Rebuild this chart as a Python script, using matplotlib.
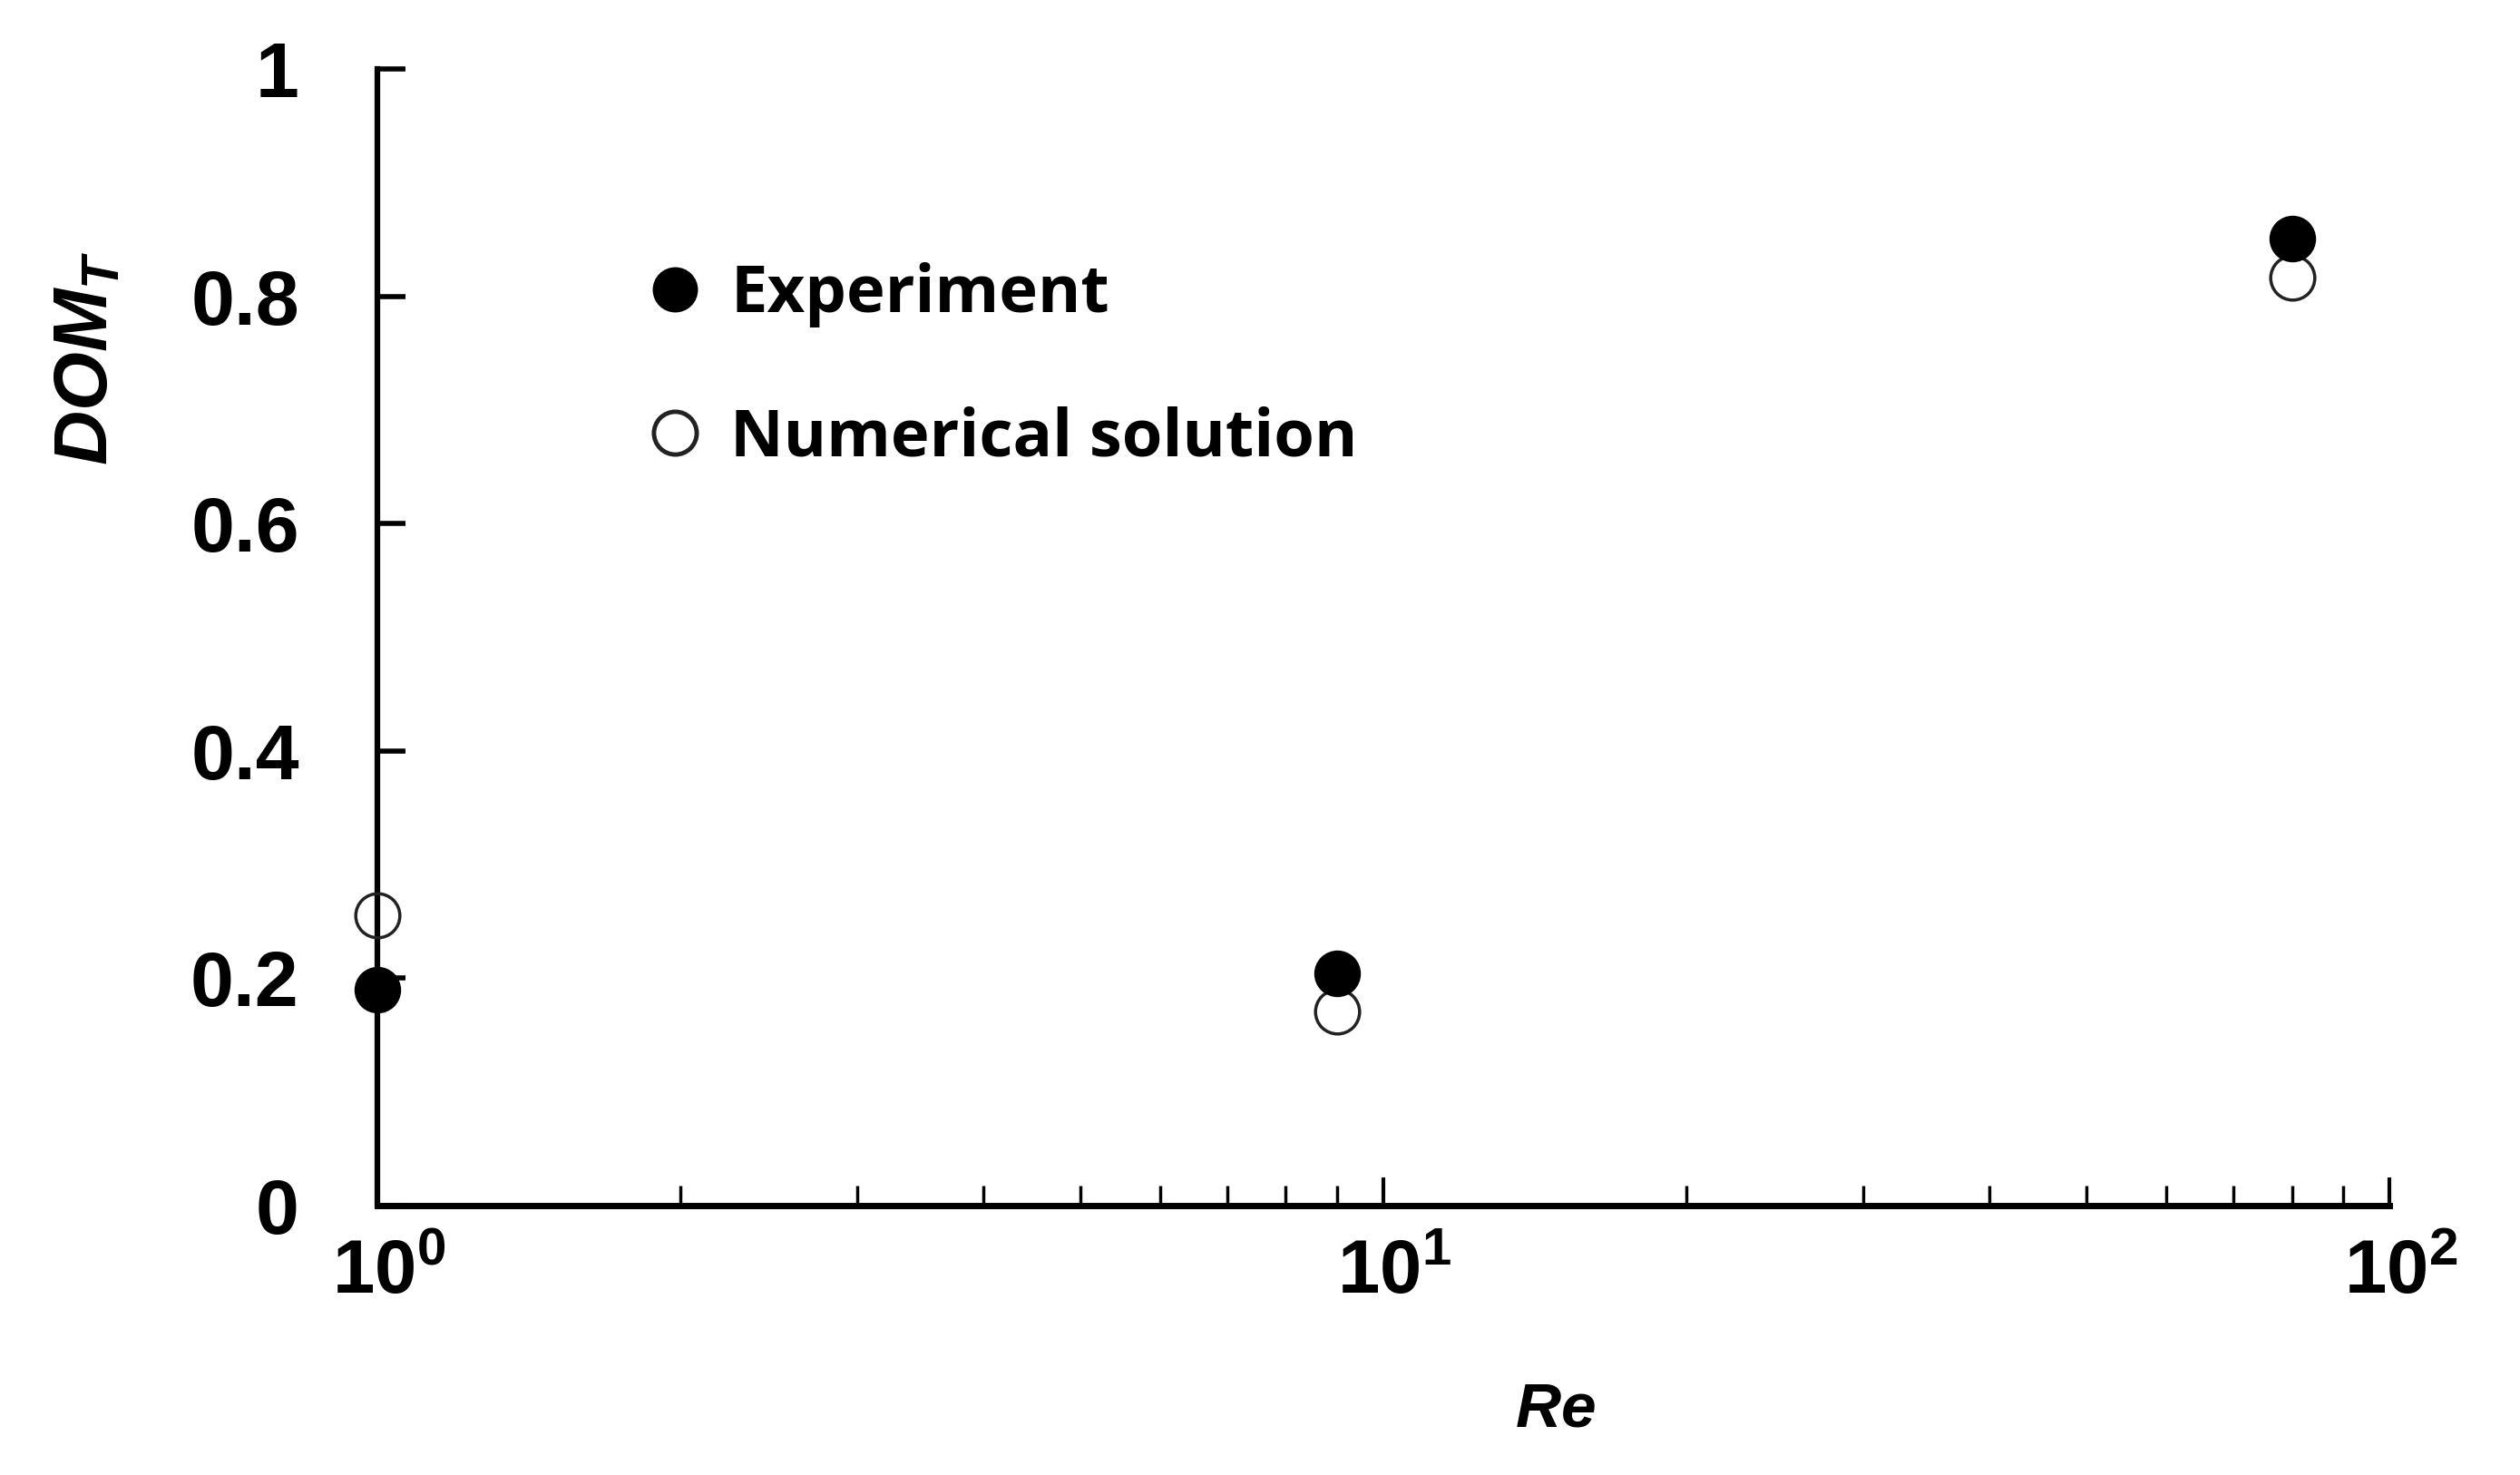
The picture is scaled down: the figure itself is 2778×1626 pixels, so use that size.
import numpy as np
import matplotlib
matplotlib.use("Agg")
import matplotlib.pyplot as plt
from matplotlib.ticker import LogLocator, FuncFormatter, FixedLocator
from matplotlib.transforms import ScaledTranslation

# data
re_vals = [1.0, 9.0, 80.0]
dom_experiment = [0.19, 0.204, 0.851]
dom_numerical = [0.255, 0.171, 0.816]
y_ticks = [0, 0.2, 0.4, 0.6, 0.8, 1.0]

plt.rcParams["font.family"] = ["Liberation Sans", "DejaVu Sans"]
plt.rcParams["font.weight"] = "bold"
plt.rcParams["mathtext.fontset"] = "custom"
plt.rcParams["mathtext.rm"] = "Liberation Sans:bold"
plt.rcParams["mathtext.bf"] = "Liberation Sans:bold"
plt.rcParams["mathtext.it"] = "Liberation Sans:italic:bold"

fig = plt.figure(figsize=(27.78, 16.26), dpi=100)
ax = fig.add_axes([0.1497, 0.1827, 0.9482 - 0.1497, 0.9533 - 0.1827])

# open circles first so the filled ones sit on top
num, = ax.plot(re_vals, dom_numerical, linestyle="none", marker="o",
               markersize=35, markerfacecolor="none", markeredgecolor="#222222",
               markeredgewidth=2.5, clip_on=False, zorder=3)
exp, = ax.plot(re_vals, dom_experiment, linestyle="none", marker="o",
               markersize=36, color="black", clip_on=False, zorder=4)

ax.set_xscale("log")
ax.set_xlim(1, 100)
ax.set_ylim(0, 1)

ax.yaxis.set_major_locator(FixedLocator(y_ticks))
ax.yaxis.set_major_formatter(FuncFormatter(lambda v, p: "%g" % v))
ax.xaxis.set_major_locator(LogLocator(base=10))
ax.xaxis.set_minor_locator(LogLocator(base=10, subs=np.arange(2, 10)))

for s in ["top", "right"]:
    ax.spines[s].set_visible(False)
ax.spines["left"].set_linewidth(4.5)
ax.spines["bottom"].set_linewidth(5)

ax.tick_params(axis="y", which="major", direction="in", length=22, width=4,
               labelsize=62, pad=62)
ax.tick_params(axis="x", which="major", direction="in", length=22, width=3,
               labelsize=60, pad=26)
ax.tick_params(axis="x", which="minor", direction="in", length=16, width=2.5)

# x labels in the reference sit a little right of their ticks
shift = ScaledTranslation(9 / 72, 0, fig.dpi_scale_trans)
for lab in ax.xaxis.get_majorticklabels():
    lab.set_transform(lab.get_transform() + shift)

fig.text(0.035, 0.757, r"$\mathit{DOM}_{\mathit{T}}$", rotation=90,
         fontsize=60, ha="center", va="center")
fig.text(0.617, 0.044, r"$\mathit{Re}$", fontsize=50, ha="center", va="center")

leg = ax.legend([exp, num], ["Experiment", "Numerical solution"],
                loc="upper left", bbox_to_anchor=(0.125, 0.853), frameon=False,
                prop={"family": ["Open Sans", "DejaVu Sans"], "weight": "bold",
                      "size": 52},
                handlelength=0.6, handletextpad=0.55, labelspacing=1.2,
                markerscale=0.97, borderaxespad=0)
leg.legend_handles[1].set_markeredgewidth(3.5)

fig.savefig("out.png", dpi=100, facecolor="white")
